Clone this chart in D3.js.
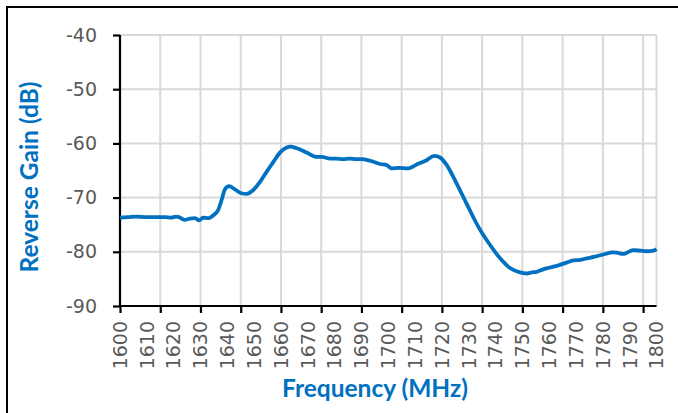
<!DOCTYPE html>
<html>
<head>
<meta charset="utf-8">
<script src="https://cdn.jsdelivr.net/npm/d3@7"></script>
<style>
    body { margin: 0; background: #fff; }
    svg { display: block; }
</style>
</head>
<body>
<svg id="chart"></svg>
<script>
// frequency (MHz) and reverse gain (dB)
const freqs = [1600, 1603, 1606, 1610, 1614, 1617, 1619, 1621, 1622, 1624, 1626, 1628, 1629.5, 1631, 1633, 1634.7,
    1636.6, 1637.9, 1639.1, 1640.7, 1642.9, 1645.3, 1647.2, 1649.7, 1652.2, 1654.7, 1657.2, 1659.6, 1662, 1663.4,
    1665.9, 1669.6, 1673.3, 1675.2, 1678.3, 1680.5, 1683.2, 1685.7, 1688, 1690.1, 1693.2, 1696.9, 1699.4, 1701.2,
    1704, 1707.4, 1710.6, 1714.3, 1717.1, 1719.3, 1721.8, 1725.5, 1729.2, 1733.6, 1737.9, 1741.7, 1745.4, 1749.1,
    1751.6, 1753.5, 1755.3, 1758, 1760.3, 1764, 1766.5, 1769, 1771.5, 1774, 1777, 1780.1, 1783.9, 1785.5, 1787.6,
    1791.3, 1794, 1796.3, 1798.8, 1800];
const gains = [-73.7, -73.6, -73.5, -73.6, -73.6, -73.6, -73.7, -73.5, -73.6, -74.1, -73.9, -73.8, -74.2, -73.7, -73.8, -73.3,
    -72.3, -70.4, -68.5, -67.9, -68.5, -69.2, -69.3, -68.6, -67.1, -65.2, -63.4, -61.7, -60.8, -60.6,
    -60.9, -61.7, -62.5, -62.5, -62.8, -62.8, -62.9, -62.8, -62.9, -62.9, -63.2, -63.8, -64.0, -64.6,
    -64.5, -64.6, -63.9, -63.1, -62.3, -62.6, -64.0, -67.4, -71.1, -75.4, -78.7, -81.2, -83.0, -83.8,
    -84.0, -83.8, -83.7, -83.2, -82.9, -82.4, -82.0, -81.6, -81.5, -81.2, -80.9, -80.5, -80.1, -80.2, -80.4,
    -79.7, -79.8, -79.9, -79.8, -79.5];
const yTicks = [-40, -50, -60, -70, -80, -90];
const xLabels = d3.range(1600, 1801, 10);
const xGrid = d3.range(1600, 1800, 15);

const W = 678, H = 413;
const margin = {top: 35, right: 21.5, bottom: 107, left: 120};
const width = W - margin.left - margin.right;
const height = H - margin.top - margin.bottom;

const svg = d3.select('#chart').attr('width', W).attr('height', H);

// frame lines on left and top
svg.append('line').attr('x1', 7).attr('x2', 7).attr('y1', 6).attr('y2', H)
    .attr('stroke', '#000').attr('stroke-width', 2);
svg.append('line').attr('x1', 6).attr('x2', W).attr('y1', 7).attr('y2', 7)
    .attr('stroke', '#000').attr('stroke-width', 2);

const g = svg.append('g').attr('transform', `translate(${margin.left}, ${margin.top})`);

const x = d3.scaleLinear().domain([1600, 1800]).range([0, width]);
const y = d3.scaleLinear().domain([-90, -40]).range([height, 0]);

// gridlines
g.append('g').selectAll('line').data(yTicks.slice(0, -1)).enter().append('line')
    .attr('x1', 0).attr('x2', width)
    .attr('y1', d => y(d)).attr('y2', d => y(d))
    .attr('stroke', '#d9d9d9').attr('stroke-width', 2);
g.append('g').selectAll('line').data(xGrid.slice(1).concat([1800])).enter().append('line')
    .attr('x1', d => x(d)).attr('x2', d => x(d))
    .attr('y1', 0).attr('y2', height)
    .attr('stroke', '#d9d9d9').attr('stroke-width', 2);

// y axis
const yAxis = g.append('g')
    .call(d3.axisLeft(y).tickValues(yTicks).tickSize(7).tickPadding(16).tickFormat(d => String(d)));
// x axis ticks (every 15 MHz)
const xAxis = g.append('g')
    .attr('transform', `translate(0, ${height})`)
    .call(d3.axisBottom(x).tickValues(xGrid).tickSize(7).tickFormat(''));
[yAxis, xAxis].forEach(a => {
    a.select('.domain').attr('stroke', '#000').attr('stroke-width', 2.2);
    a.selectAll('.tick line').attr('stroke', '#000').attr('stroke-width', 2.2);
});
yAxis.select('.domain').attr('d', `M0,0V${height}`);
xAxis.select('.domain').attr('d', `M0,0H${width}`);
yAxis.selectAll('text')
    .style('font-family', 'DejaVu Sans')
    .style('font-size', '19px')
    .attr('fill', '#595959');

// x labels every 10 MHz
g.append('g').selectAll('text').data(xLabels).enter().append('text')
    .attr('transform', d => `translate(${x(d)}, ${height + 15}) rotate(-90)`)
    .attr('dy', '0.36em')
    .attr('text-anchor', 'end')
    .style('font-family', 'DejaVu Sans')
    .style('font-size', '19px')
    .attr('fill', '#595959')
    .text(d => d);

// data line
const line = d3.line()
    .x((d, i) => x(freqs[i]))
    .y(d => y(d))
    .curve(d3.curveMonotoneX);
g.append('path')
    .datum(gains)
    .attr('d', line)
    .attr('fill', 'none')
    .attr('stroke', '#0070c0')
    .attr('stroke-width', 3.8)
    .attr('stroke-linejoin', 'round');

// titles
svg.append('text')
    .attr('x', 375).attr('y', 397)
    .attr('text-anchor', 'middle')
    .style('font-family', 'Lato')
    .style('font-weight', 'bold')
    .style('font-size', '24.5px')
    .attr('fill', '#0070c0')
    .text('Frequency (MHz)');
svg.append('text')
    .attr('transform', 'translate(38, 177) rotate(-90)')
    .attr('text-anchor', 'middle')
    .style('font-family', 'Lato')
    .style('font-weight', 'bold')
    .style('font-size', '24.5px')
    .attr('fill', '#0070c0')
    .text('Reverse Gain (dB)');
</script>
</body>
</html>
